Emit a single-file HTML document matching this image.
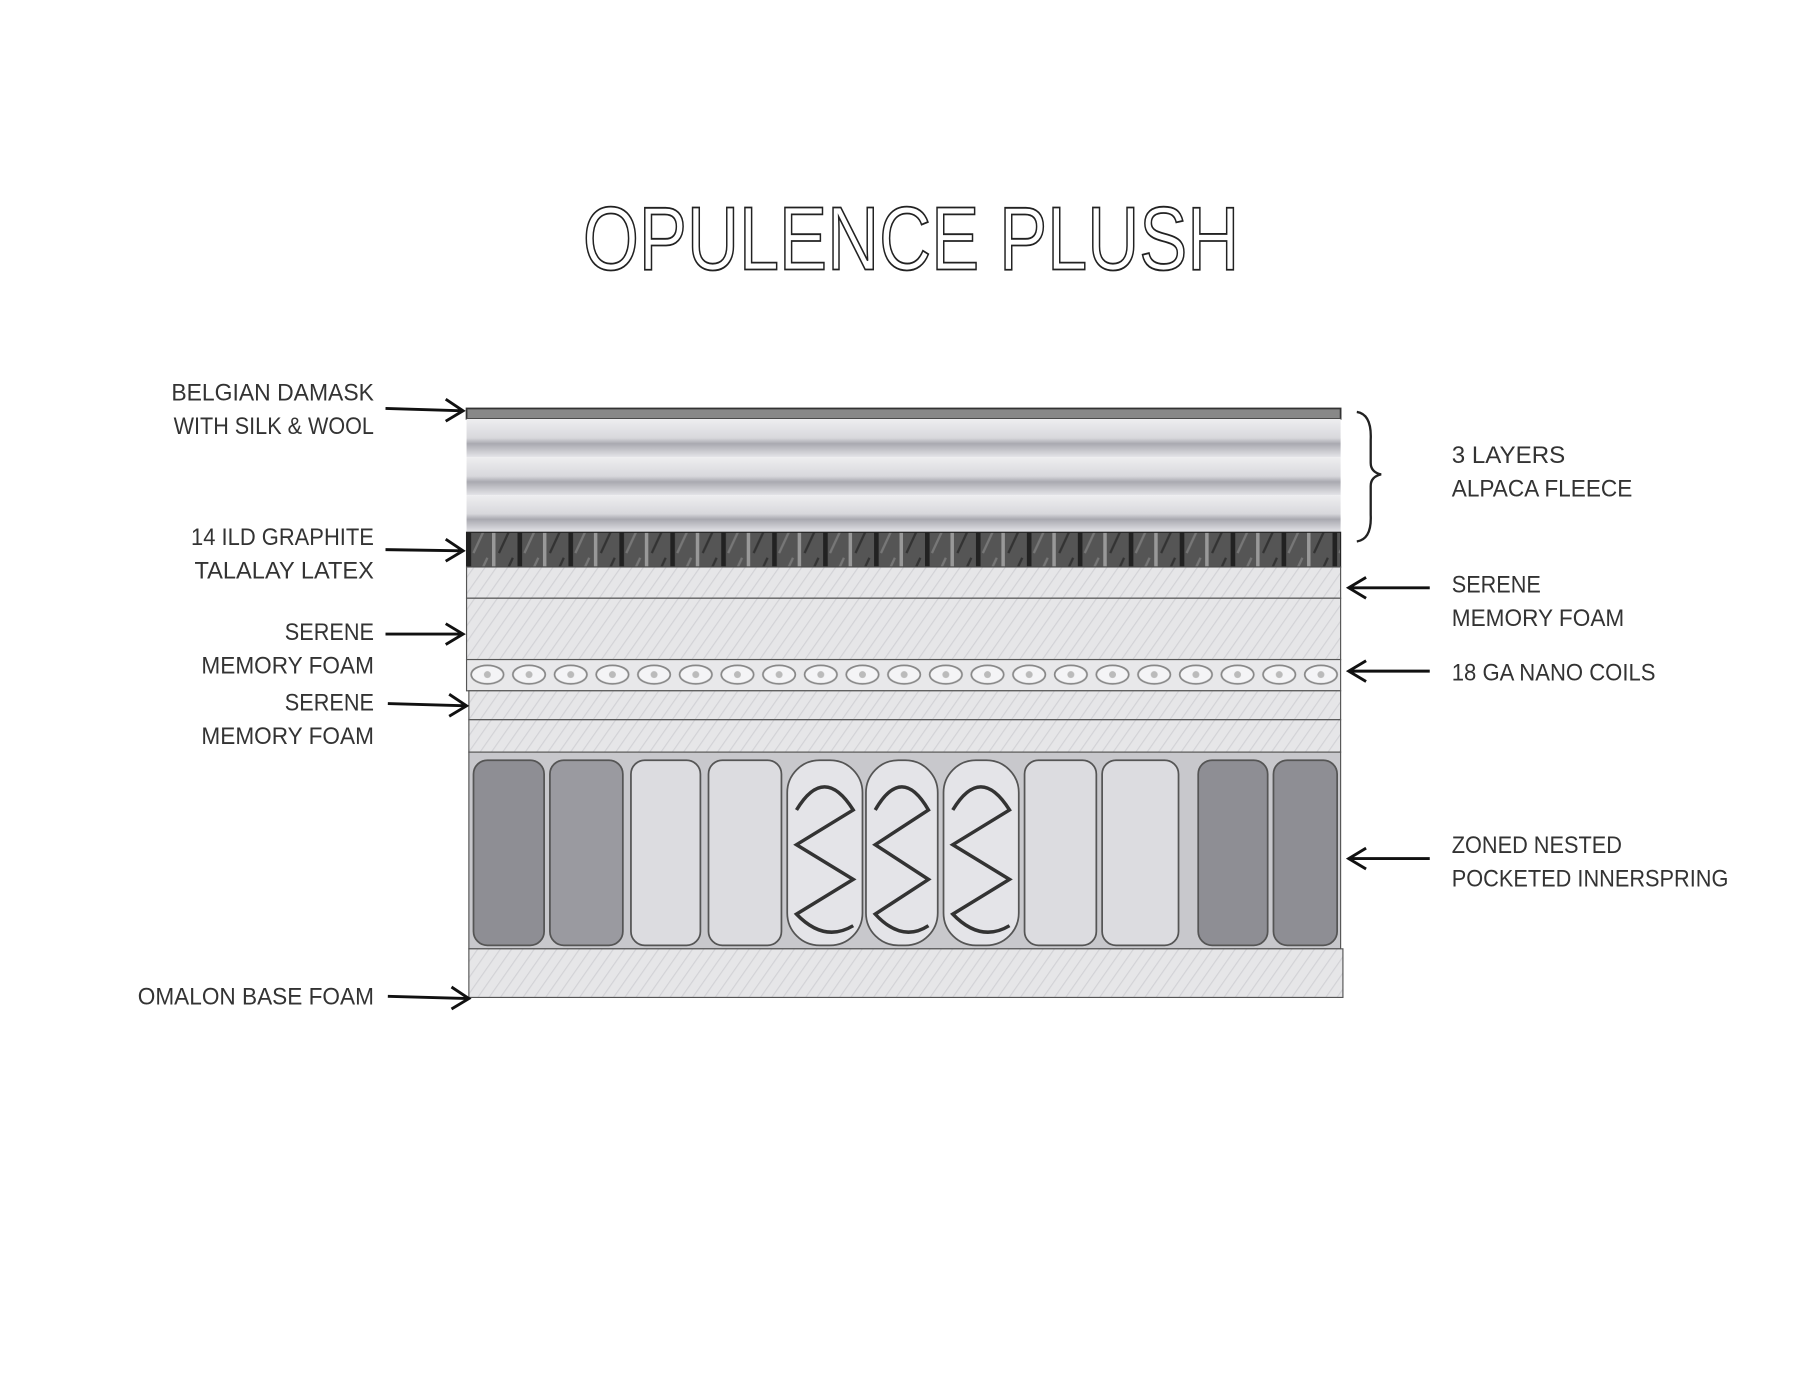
<!DOCTYPE html>
<html><head><meta charset="utf-8"><style>
html,body{margin:0;padding:0;background:#fff;}
svg{display:block;}
text{font-family:"Liberation Sans",sans-serif;}
</style></head><body>
<svg width="1806" height="1392" viewBox="0 0 1560 1203" preserveAspectRatio="none" xmlns="http://www.w3.org/2000/svg">
<defs>
<pattern id="hatch" width="8" height="8" patternUnits="userSpaceOnUse" patternTransform="rotate(35)">
<rect width="8" height="8" fill="#e6e6e8"/><line x1="0" y1="0" x2="0" y2="8" stroke="#d2d2d6" stroke-width="2"/></pattern>
<pattern id="dark" width="44" height="30" patternUnits="userSpaceOnUse" x="403">
<rect width="44" height="30" fill="#555"/><rect x="0" width="4" height="30" fill="#222"/><rect x="22" width="3" height="30" fill="#999"/>
<line x1="6" y1="28" x2="18" y2="2" stroke="#777" stroke-width="2"/><line x1="28" y1="28" x2="40" y2="2" stroke="#333" stroke-width="2"/></pattern>
<pattern id="coil" width="36" height="27" patternUnits="userSpaceOnUse" x="403" y="570">
<rect width="36" height="27" fill="#e8e8ea"/><ellipse cx="18" cy="13" rx="14" ry="8" fill="#f4f4f6" stroke="#888" stroke-width="1.5"/><circle cx="18" cy="13" r="3" fill="#bbb"/></pattern>
<linearGradient id="fl" x1="0" y1="0" x2="0" y2="1"><stop offset="0" stop-color="#eeeef0"/><stop offset="0.5" stop-color="#d8d8dc"/><stop offset="0.65" stop-color="#a9a9b0"/><stop offset="1" stop-color="#e4e4e8"/></linearGradient>
</defs>
<text x="787" y="233" text-anchor="middle" font-size="78" fill="none" stroke="#222" stroke-width="1.6" textLength="567" lengthAdjust="spacingAndGlyphs">OPULENCE PLUSH</text>

<!-- mattress -->
<rect x="403" y="353" width="755" height="9" fill="#888" stroke="#333" stroke-width="1.5"/>
<rect x="403" y="362" width="755" height="33" fill="url(#fl)"/>
<rect x="403" y="395" width="755" height="33" fill="url(#fl)"/>
<rect x="403" y="428" width="755" height="32" fill="url(#fl)"/>
<rect x="403" y="460" width="755" height="30" fill="url(#dark)" stroke="#222"/>
<rect x="403" y="490" width="755" height="27" fill="url(#hatch)" stroke="#555"/>
<rect x="403" y="517" width="755" height="53" fill="url(#hatch)" stroke="#555"/>
<rect x="403" y="570" width="755" height="27" fill="url(#coil)" stroke="#555"/>
<rect x="405" y="597" width="753" height="25" fill="url(#hatch)" stroke="#555"/>
<rect x="405" y="622" width="753" height="28" fill="url(#hatch)" stroke="#555"/>
<rect x="405" y="650" width="753" height="170" fill="#c8c8cc" stroke="#555"/>
<g stroke="#555" stroke-width="1.5">
<rect x="409" y="657" width="61" height="160" rx="12" fill="#8e8e94"/>
<rect x="475" y="657" width="63" height="160" rx="12" fill="#9a9aa0"/>
<rect x="545" y="657" width="60" height="160" rx="12" fill="#dcdce0"/>
<rect x="612" y="657" width="63" height="160" rx="12" fill="#dcdce0"/>
<rect x="680" y="657" width="65" height="160" rx="28" fill="#e4e4e8"/>
<rect x="748" y="657" width="62" height="160" rx="28" fill="#e4e4e8"/>
<rect x="815" y="657" width="65" height="160" rx="28" fill="#e4e4e8"/>
<rect x="885" y="657" width="62" height="160" rx="12" fill="#dcdce0"/>
<rect x="952" y="657" width="66" height="160" rx="12" fill="#dcdce0"/>
<rect x="1035" y="657" width="60" height="160" rx="12" fill="#8e8e94"/>
<rect x="1100" y="657" width="55" height="160" rx="12" fill="#8e8e94"/>
</g>
<g fill="none" stroke="#333" stroke-width="3">
<path d="M688 700 Q712 660 737 700 L688 730 L737 760 L688 790 Q712 815 737 800"/>
<path d="M756 700 Q779 660 802 700 L756 730 L802 760 L756 790 Q779 815 802 800"/>
<path d="M823 700 Q847 660 872 700 L823 730 L872 760 L823 790 Q847 815 872 800"/>
</g>
<rect x="405" y="820" width="755" height="42" fill="url(#hatch)" stroke="#555"/>

<!-- brace -->
<path d="M1172 356 Q1185 358 1184 380 L1184 400 Q1184 408 1193 410 Q1184 412 1184 420 L1184 445 Q1185 466 1172 468" fill="none" stroke="#222" stroke-width="2"/>

<!-- arrows -->
<g stroke="#111" stroke-width="2.5" fill="none">
<path d="M333 353 L400 355 M385 345 L400 355 L385 364"/>
<path d="M333 475 L400 476 M385 466 L400 476 L385 485"/>
<path d="M333 548 L400 548 M385 539 L400 548 L385 557"/>
<path d="M335 608 L403 610 M388 600 L403 610 L388 619"/>
<path d="M335 861 L405 863 M390 853 L405 863 L390 872"/>
<path d="M1235 508 L1165 508 M1180 499 L1165 508 L1180 517"/>
<path d="M1235 580 L1165 580 M1180 571 L1165 580 L1180 589"/>
<path d="M1235 742 L1165 742 M1180 733 L1165 742 L1180 751"/>
</g>

<g font-size="21" fill="#333" text-anchor="end">
<text x="323" y="346" textLength="175" lengthAdjust="spacingAndGlyphs">BELGIAN DAMASK</text>
<text x="323" y="375" textLength="173" lengthAdjust="spacingAndGlyphs">WITH SILK &amp; WOOL</text>
<text x="323" y="471" textLength="158" lengthAdjust="spacingAndGlyphs">14 ILD GRAPHITE</text>
<text x="323" y="500" textLength="155" lengthAdjust="spacingAndGlyphs">TALALAY LATEX</text>
<text x="323" y="553" textLength="77" lengthAdjust="spacingAndGlyphs">SERENE</text>
<text x="323" y="582" textLength="149" lengthAdjust="spacingAndGlyphs">MEMORY FOAM</text>
<text x="323" y="614" textLength="77" lengthAdjust="spacingAndGlyphs">SERENE</text>
<text x="323" y="643" textLength="149" lengthAdjust="spacingAndGlyphs">MEMORY FOAM</text>
<text x="323" y="868" textLength="204" lengthAdjust="spacingAndGlyphs">OMALON BASE FOAM</text>
</g>
<g font-size="21" fill="#333">
<text x="1254" y="400" textLength="98" lengthAdjust="spacingAndGlyphs">3 LAYERS</text>
<text x="1254" y="429" textLength="156" lengthAdjust="spacingAndGlyphs">ALPACA FLEECE</text>
<text x="1254" y="512" textLength="77" lengthAdjust="spacingAndGlyphs">SERENE</text>
<text x="1254" y="541" textLength="149" lengthAdjust="spacingAndGlyphs">MEMORY FOAM</text>
<text x="1254" y="588" textLength="176" lengthAdjust="spacingAndGlyphs">18 GA NANO COILS</text>
<text x="1254" y="737" textLength="147" lengthAdjust="spacingAndGlyphs">ZONED NESTED</text>
<text x="1254" y="766" textLength="239" lengthAdjust="spacingAndGlyphs">POCKETED INNERSPRING</text>
</g>
</svg>
</body></html>
